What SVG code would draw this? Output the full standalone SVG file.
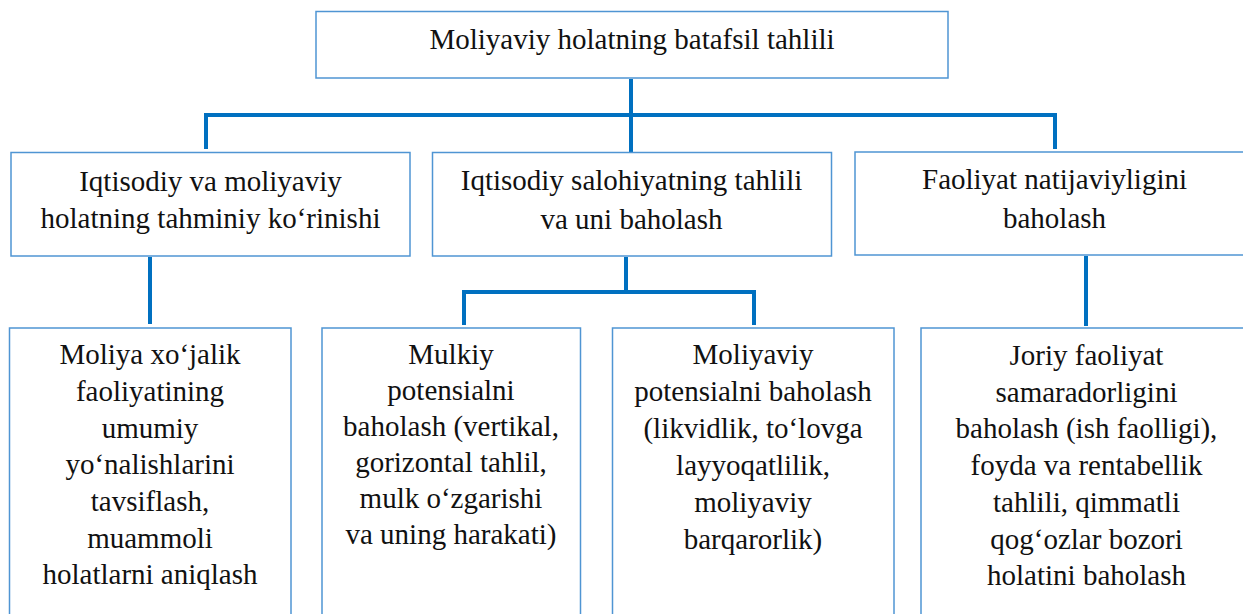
<svg xmlns="http://www.w3.org/2000/svg" width="1243" height="614" viewBox="0 0 1243 614">
  <style>
    .box { fill: #ffffff; stroke: #4f95d3; stroke-width: 1.5; }
    .lbl { font-family: 'Liberation Serif', serif; font-size: 29px; fill: #111111; text-anchor: middle; }
    .wire { fill: none; stroke: #0070c0; stroke-width: 4; stroke-linejoin: miter; stroke-linecap: butt; }
  </style>
  <rect width="1243" height="614" fill="#ffffff"/>

  <!-- connectors -->
  <g id="connectors">
    <path class="wire" d="M631 79 V165"/>
    <path class="wire" d="M206 149 V115 H1055 V149"/>
    <path class="wire" d="M150 257 V324"/>
    <path class="wire" d="M626 257 V292 H464 V325"/>
    <path class="wire" d="M626 292 H754 V325"/>
    <path class="wire" d="M1086 256 V326"/>
  </g>

  <!-- level 0 -->
  <g id="root">
    <rect class="box" x="316" y="11.5" width="632" height="66.5"/>
    <text class="lbl" x="632" y="48.5">Moliyaviy holatning batafsil tahlili</text>
  </g>

  <!-- level 1 -->
  <g id="overview">
    <rect class="box" x="11" y="152.5" width="399" height="103.5"/>
    <text class="lbl" x="210.5" y="190.7">Iqtisodiy va moliyaviy</text>
    <text class="lbl" x="210.5" y="228.3">holatning tahminiy ko&#8216;rinishi</text>
  </g>
  <g id="potential">
    <rect class="box" x="432.5" y="152.5" width="399" height="103.5"/>
    <text class="lbl" x="631.5" y="190.2">Iqtisodiy salohiyatning tahlili</text>
    <text class="lbl" x="631.5" y="228.8">va uni baholash</text>
  </g>
  <g id="performance">
    <rect class="box" x="855" y="152" width="400" height="103"/>
    <text class="lbl" x="1054.5" y="189.3">Faoliyat natijaviyligini</text>
    <text class="lbl" x="1054.5" y="228.3">baholash</text>
  </g>

  <!-- level 2 -->
  <g id="general">
    <rect class="box" x="9.5" y="328" width="281.5" height="300"/>
    <text class="lbl" x="150" y="364.3">Moliya xo&#8216;jalik</text>
    <text class="lbl" x="150" y="401">faoliyatining</text>
    <text class="lbl" x="150" y="437.7">umumiy</text>
    <text class="lbl" x="150" y="474.3">yo&#8216;nalishlarini</text>
    <text class="lbl" x="150" y="511">tavsiflash,</text>
    <text class="lbl" x="150" y="547.7">muammoli</text>
    <text class="lbl" x="150" y="584.3">holatlarni aniqlash</text>
  </g>
  <g id="property">
    <rect class="box" x="322" y="328" width="258.5" height="300"/>
    <text class="lbl" x="451" y="364">Mulkiy</text>
    <text class="lbl" x="451" y="400">potensialni</text>
    <text class="lbl" x="451" y="436">baholash (vertikal,</text>
    <text class="lbl" x="451" y="472">gorizontal tahlil,</text>
    <text class="lbl" x="451" y="508">mulk o&#8216;zgarishi</text>
    <text class="lbl" x="451" y="544">va uning harakati)</text>
  </g>
  <g id="financial">
    <rect class="box" x="612.5" y="328" width="281.5" height="300"/>
    <text class="lbl" x="753" y="364">Moliyaviy</text>
    <text class="lbl" x="753" y="401">potensialni baholash</text>
    <text class="lbl" x="753" y="438">(likvidlik, to&#8216;lovga</text>
    <text class="lbl" x="753" y="475">layyoqatlilik,</text>
    <text class="lbl" x="753" y="512">moliyaviy</text>
    <text class="lbl" x="753" y="549">barqarorlik)</text>
  </g>
  <g id="efficiency">
    <rect class="box" x="921" y="328" width="340" height="300"/>
    <text class="lbl" x="1086.5" y="365">Joriy faoliyat</text>
    <text class="lbl" x="1086.5" y="401.7">samaradorligini</text>
    <text class="lbl" x="1086.5" y="438.4">baholash (ish faolligi),</text>
    <text class="lbl" x="1086.5" y="475.1">foyda va rentabellik</text>
    <text class="lbl" x="1086.5" y="511.8">tahlili, qimmatli</text>
    <text class="lbl" x="1086.5" y="548.5">qog&#8216;ozlar bozori</text>
    <text class="lbl" x="1086.5" y="585.2">holatini baholash</text>
  </g>
</svg>
